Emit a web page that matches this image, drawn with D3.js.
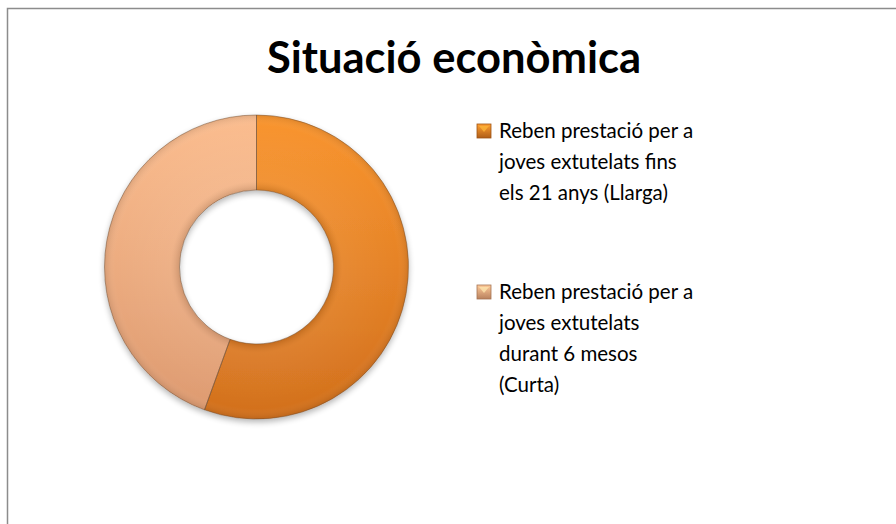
<!DOCTYPE html>
<html>
<head>
<meta charset="utf-8">
<script src="https://cdn.jsdelivr.net/npm/d3@7"></script>
<style>
  html, body { margin: 0; padding: 0; background: #fff; }
  #chart { width: 896px; height: 524px; }
  text { font-family: Lato, "Open Sans", sans-serif; }
</style>
</head>
<body>
<div id="chart"></div>
<script>
(function(){

    const title = "Situació econòmica";
    const categories = ["Llarga", "Curta"];
    const values = [5, 4];
    // legend text, one entry per category, already broken into lines
    const legendLines = [
        ["Reben prestació per a", "joves extutelats fins", "els 21 anys (Llarga)"],
        ["Reben prestació per a", "joves extutelats", "durant 6 mesos", "(Curta)"]
    ];
    const sliceTop = ["#f9952f", "#fbbd8f"];
    const sliceBottom = ["#d2701d", "#dd9a70"];

    const width = 896, height = 524;
    const cx = 256.5, cy = 267, outerR = 152, innerR = 77;

    const svg = d3.select("#chart")
        .append("svg")
        .attr("width", width)
        .attr("height", height);

    const defs = svg.append("defs");

    // soft drop shadow under the ring
    const shadow = defs.append("filter")
        .attr("id", "shadow")
        .attr("x", "-20%").attr("y", "-20%")
        .attr("width", "140%").attr("height", "140%");
    shadow.append("feGaussianBlur").attr("in", "SourceAlpha").attr("stdDeviation", 3);
    shadow.append("feOffset").attr("dx", 0).attr("dy", 3).attr("result", "off");
    shadow.append("feComponentTransfer").append("feFuncA").attr("type", "linear").attr("slope", 0.3);
    const merge = shadow.append("feMerge");
    merge.append("feMergeNode");
    merge.append("feMergeNode").attr("in", "SourceGraphic");

    // gradients are in the ring's local coordinates (centre = 0,0)
    categories.forEach((c, i) => {
        const g = defs.append("linearGradient")
            .attr("id", "grad" + i)
            .attr("gradientUnits", "userSpaceOnUse")
            .attr("x1", 0).attr("y1", -outerR)
            .attr("x2", 0).attr("y2", outerR);
        g.append("stop").attr("offset", "0%").attr("stop-color", sliceTop[i]);
        g.append("stop").attr("offset", "100%").attr("stop-color", sliceBottom[i]);

        const lg = defs.append("linearGradient")
            .attr("id", "lgrad" + i)
            .attr("x1", 0).attr("y1", 0).attr("x2", 0).attr("y2", 1);
        lg.append("stop").attr("offset", "0%").attr("stop-color", d3.color(sliceTop[i]).brighter(0.2));
        lg.append("stop").attr("offset", "100%").attr("stop-color", d3.color(sliceBottom[i]).darker(0.5));
    });

    // bevel: darker at the inner and outer rims, light in the band
    const bevel = defs.append("radialGradient")
        .attr("id", "bevel")
        .attr("gradientUnits", "userSpaceOnUse")
        .attr("cx", 0).attr("cy", 0).attr("r", outerR);
    const k = innerR / outerR;
    bevel.append("stop").attr("offset", k).attr("stop-color", "#000").attr("stop-opacity", 0.12);
    bevel.append("stop").attr("offset", k + 0.06).attr("stop-color", "#fff").attr("stop-opacity", 0.06);
    bevel.append("stop").attr("offset", 0.93).attr("stop-color", "#fff").attr("stop-opacity", 0.0);
    bevel.append("stop").attr("offset", 1).attr("stop-color", "#000").attr("stop-opacity", 0.1);

    // chart frame
    svg.append("rect")
        .attr("x", 7.5).attr("y", 8.5)
        .attr("width", width + 20).attr("height", height + 20)
        .attr("fill", "none")
        .attr("stroke", "#8c8c8c")
        .attr("stroke-width", 1.5);

    // title
    svg.append("text")
        .attr("x", 454)
        .attr("y", 73)
        .attr("text-anchor", "middle")
        .attr("font-size", 43.5)
        .attr("font-weight", "bold")
        .attr("fill", "#000")
        .text(title);

    const pie = d3.pie().sort(null).value(d => d);
    const arc = d3.arc().innerRadius(innerR).outerRadius(outerR);
    const arcs = pie(values);

    const ring = svg.append("g")
        .attr("transform", `translate(${cx},${cy})`);

    const shadowG = ring.append("g").attr("filter", "url(#shadow)");
    shadowG.selectAll("path.slice")
        .data(arcs)
        .enter()
        .append("path")
        .attr("class", "slice")
        .attr("d", arc)
        .attr("fill", (d, i) => `url(#grad${i})`);

    // bevel overlay on the whole ring
    ring.append("path")
        .attr("d", d3.arc().innerRadius(innerR).outerRadius(outerR).startAngle(0).endAngle(2 * Math.PI)())
        .attr("fill", "url(#bevel)");

    // thin slice outlines on top
    ring.selectAll("path.edge")
        .data(arcs)
        .enter()
        .append("path")
        .attr("class", "edge")
        .attr("d", arc)
        .attr("fill", "none")
        .attr("stroke", "#6b4a2e")
        .attr("stroke-opacity", 0.8)
        .attr("stroke-width", 0.6);

    // legend
    const legendX = 477, lineGap = 31;
    const entryY = [124, 285];
    const legend = svg.append("g");
    legendLines.forEach((lines, i) => {
        const g = legend.append("g").attr("transform", `translate(${legendX},${entryY[i]})`);
        g.append("rect")
            .attr("x", 0).attr("y", 0)
            .attr("width", 14).attr("height", 14)
            .attr("fill", `url(#lgrad${i})`)
            .attr("stroke", d3.color(sliceBottom[i]).darker(0.8))
            .attr("stroke-width", 0.8);
        g.append("path")
            .attr("d", "M2,2 L12,2 L7,8 Z")
            .attr("fill", d3.color(sliceTop[i]).brighter(0.6))
            .attr("opacity", 0.7);
        const t = g.append("text")
            .attr("x", 22)
            .attr("y", 14)
            .attr("font-size", 20.5)
            .attr("fill", "#000");
        lines.forEach((ln, j) => {
            t.append("tspan")
                .attr("x", 22)
                .attr("dy", j === 0 ? 0 : lineGap)
                .text(ln);
        });
    });

})();
</script>
</body>
</html>
